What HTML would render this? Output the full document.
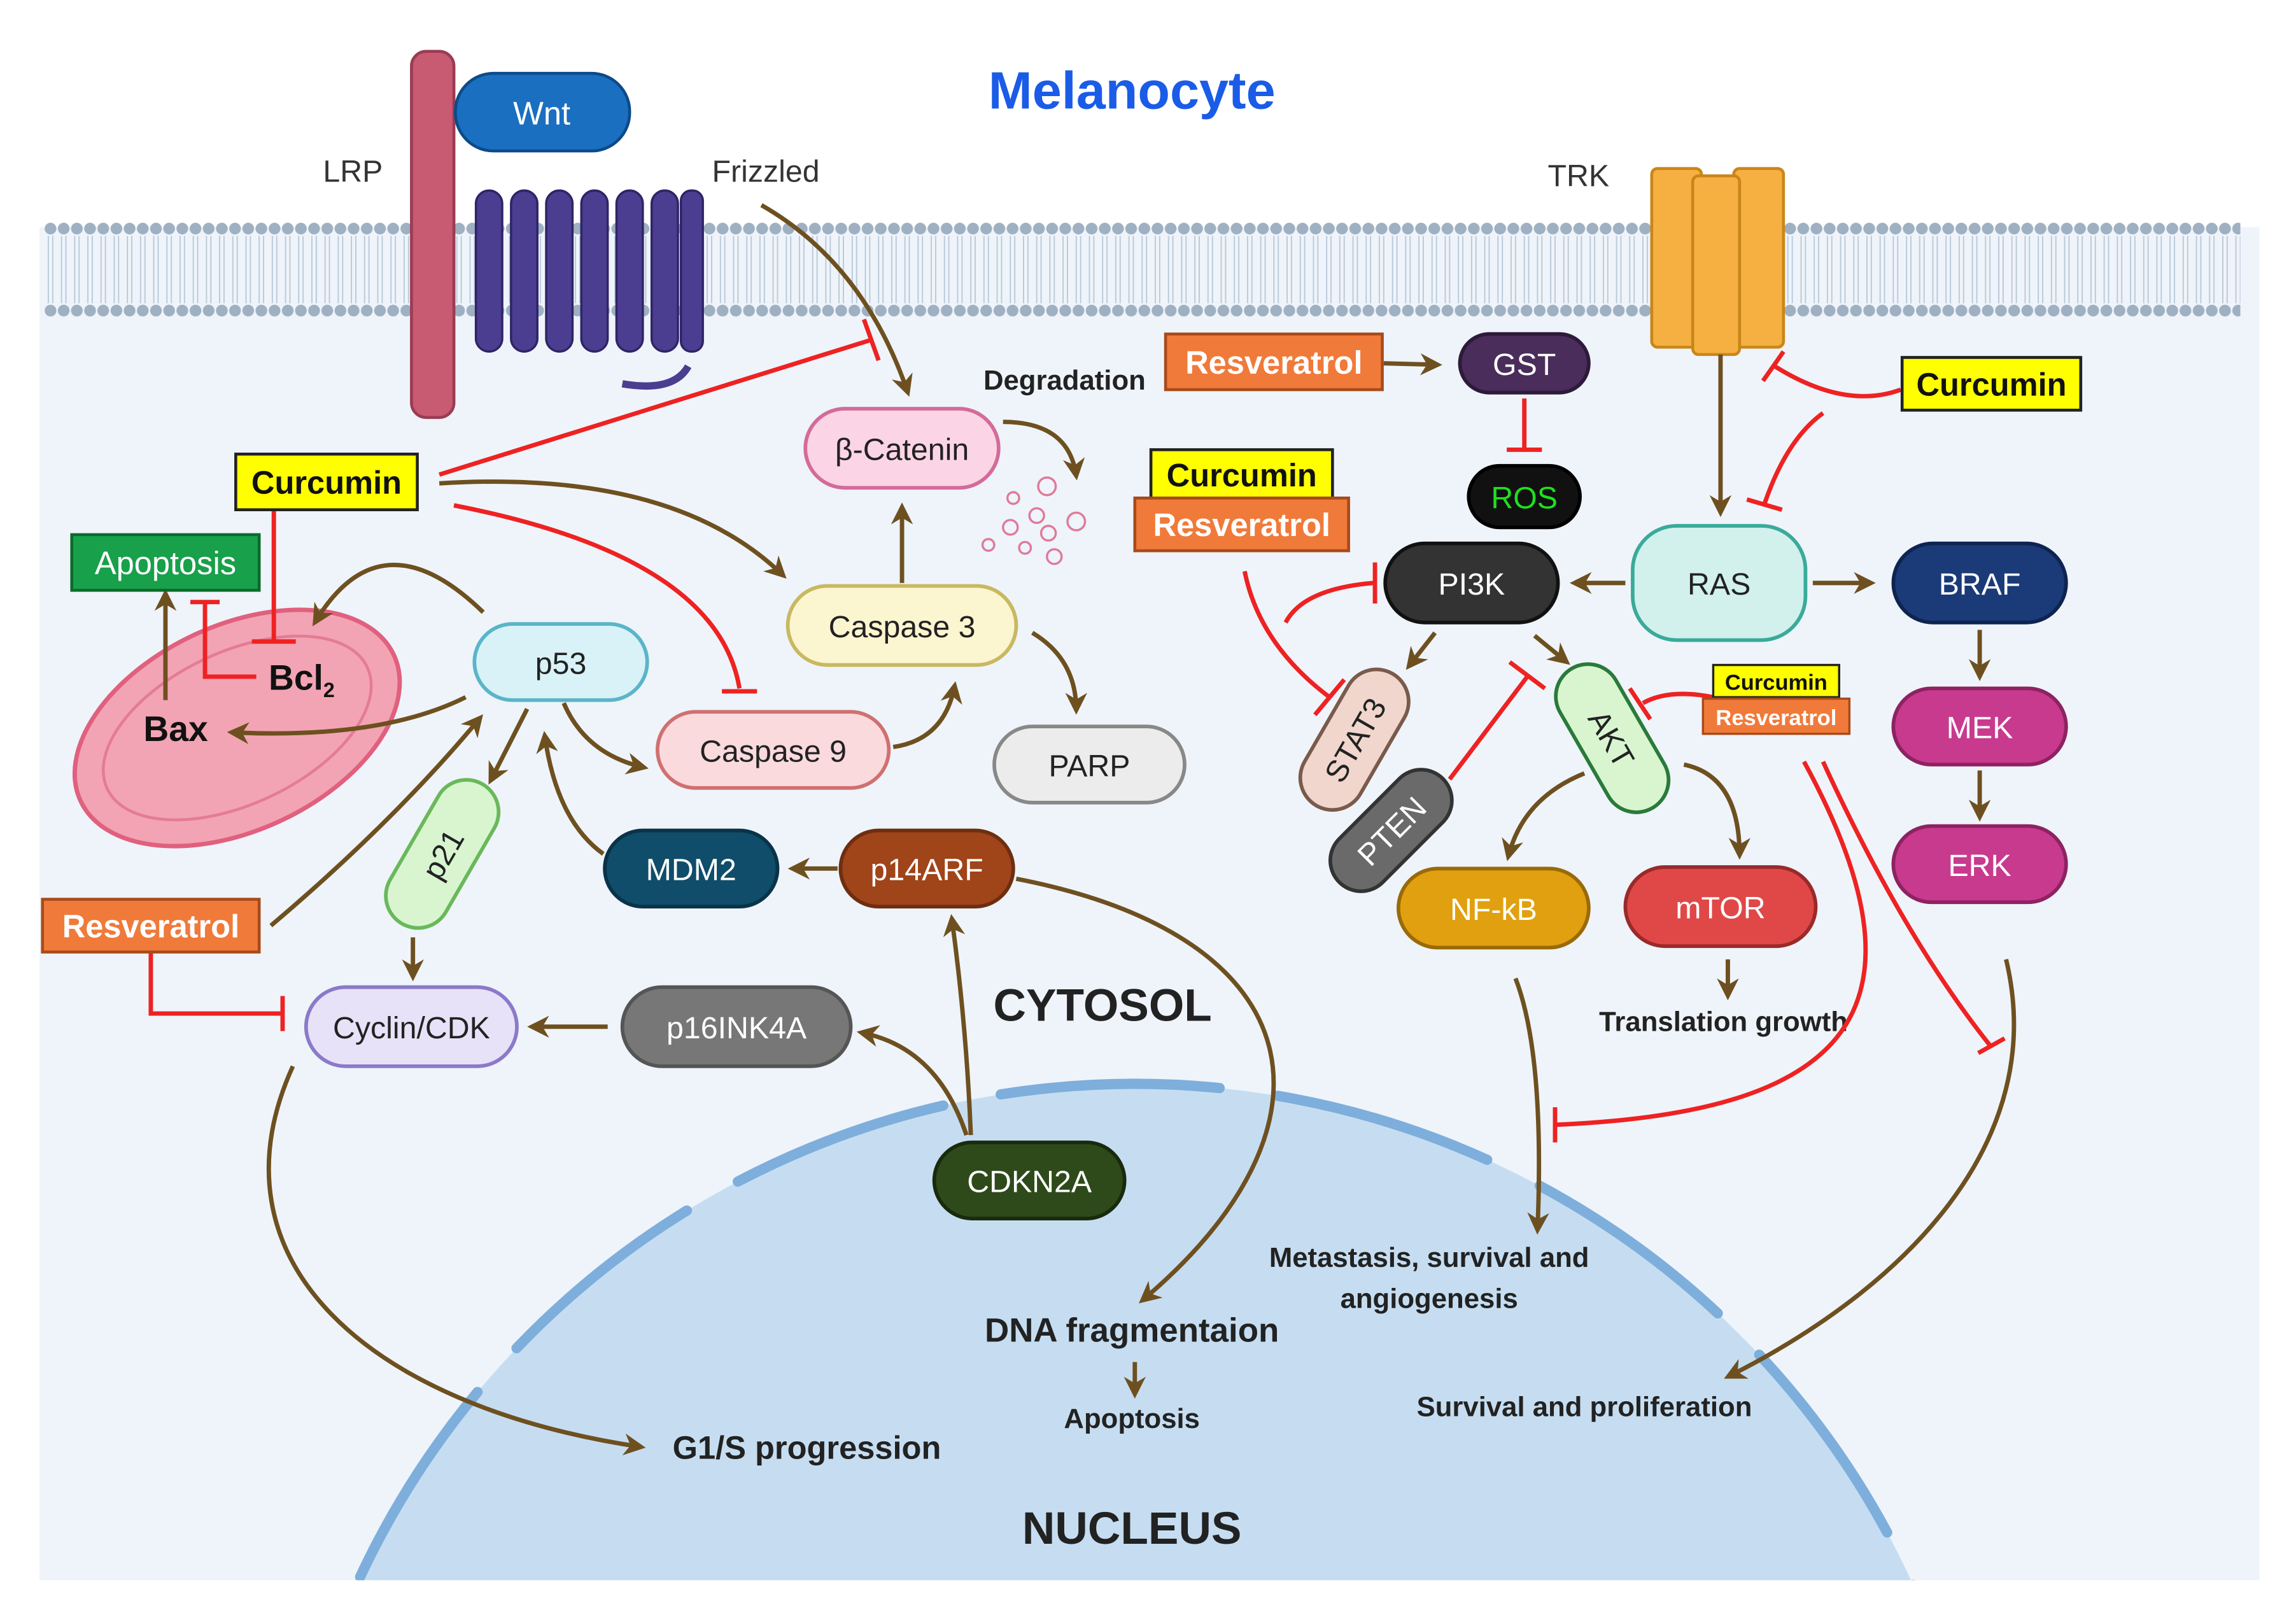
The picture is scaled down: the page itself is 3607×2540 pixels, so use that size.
<!DOCTYPE html>
<html><head><meta charset="utf-8"><style>
html,body{margin:0;padding:0;background:#fff;width:3607px;height:2540px;overflow:hidden}
svg{display:block}
text{font-family:"Liberation Sans",Arial,sans-serif}
</style></head><body>
<svg width="3607" height="2540" viewBox="0 0 1568 1104" xmlns="http://www.w3.org/2000/svg">
<defs>
<marker id="a" viewBox="0 0 10 10" refX="8" refY="5" markerWidth="5" markerHeight="5" orient="auto"><path d="M0,0L10,5L0,10L3,5z" fill="#6e5020"/></marker>
<pattern id="mem" x="30" y="150" width="9" height="70" patternUnits="userSpaceOnUse">
<circle cx="4.5" cy="6" r="4" fill="#9fb0c2"/><circle cx="4.5" cy="62" r="4" fill="#9fb0c2"/>
<line x1="3" y1="11" x2="3" y2="57" stroke="#b8c8d8" stroke-width="0.8"/><line x1="6" y1="11" x2="6" y2="57" stroke="#b8c8d8" stroke-width="0.8"/>
</pattern>
<clipPath id="cyt"><rect x="27" y="155" width="1516" height="924"/></clipPath>
</defs>
<rect width="1568" height="1104" fill="#fff"/>
<rect x="27" y="155" width="1516" height="924" fill="#eef4fa"/>
<g clip-path="url(#cyt)">
<circle cx="775" cy="1324" r="584" fill="#c6ddf1"/>
<circle cx="775" cy="1324" r="584" fill="none" stroke="#7eaedb" stroke-width="7" stroke-dasharray="150 40" stroke-linecap="round"/>
</g>
<rect x="30" y="150" width="1500" height="70" fill="url(#mem)"/>
<!-- LRP, Wnt, Frizzled -->
<rect x="281" y="35" width="29" height="250" rx="10" fill="#c85a72" stroke="#9a3c52" stroke-width="2"/>
<g fill="#4b3d8f" stroke="#2e2466" stroke-width="1.5">
<rect x="325" y="130" width="18" height="110" rx="9"/><rect x="349" y="130" width="18" height="110" rx="9"/>
<rect x="373" y="130" width="18" height="110" rx="9"/><rect x="397" y="130" width="18" height="110" rx="9"/>
<rect x="421" y="130" width="18" height="110" rx="9"/><rect x="445" y="130" width="18" height="110" rx="9"/>
<rect x="465" y="130" width="15" height="110" rx="7"/>
</g>
<path d="M425,262 Q460,268 470,250" stroke="#4b3d8f" stroke-width="5" fill="none"/>
<rect x="311" y="50" width="119" height="53" rx="26" fill="#1a6fc0" stroke="#0d4a8a" stroke-width="2"/>
<text x="370" y="85" font-size="22" fill="#fff" text-anchor="middle">Wnt</text>
<text x="241" y="124" font-size="21" fill="#333" text-anchor="middle">LRP</text>
<text x="523" y="124" font-size="21" fill="#333" text-anchor="middle">Frizzled</text>
<text x="1078" y="127" font-size="21" fill="#333" text-anchor="middle">TRK</text>
<text x="773" y="74" font-size="36" font-weight="bold" fill="#1a5ce8" text-anchor="middle">Melanocyte</text>
<!-- TRK -->
<g fill="#f5b041" stroke="#c98618" stroke-width="2">
<rect x="1128" y="115" width="34" height="122" rx="4"/><rect x="1184" y="115" width="34" height="122" rx="4"/><rect x="1156" y="120" width="32" height="122" rx="4"/>
</g>
<!-- mitochondrion -->
<ellipse cx="162" cy="497" rx="118" ry="70" transform="rotate(-25 162 497)" fill="#f2a4b4" stroke="#e0607e" stroke-width="3"/>
<ellipse cx="162" cy="497" rx="98" ry="52" transform="rotate(-25 162 497)" fill="none" stroke="#e47c94" stroke-width="2"/>
<text x="206" y="471" font-size="24" font-weight="bold" fill="#111" text-anchor="middle">Bcl<tspan font-size="14" dy="5">2</tspan></text>
<text x="120" y="506" font-size="24" font-weight="bold" fill="#111" text-anchor="middle">Bax</text>
<!-- texts -->
<g fill="#222" text-anchor="middle" font-weight="bold">
<text x="727" y="266" font-size="19">Degradation</text>
<text x="753" y="697" font-size="31">CYTOSOL</text>
<text x="1177" y="704" font-size="19">Translation growth</text>
<text x="976" y="865" font-size="19">Metastasis, survival and</text>
<text x="976" y="893" font-size="19">angiogenesis</text>
<text x="773" y="916" font-size="23">DNA fragmentaion</text>
<text x="773" y="975" font-size="19">Apoptosis</text>
<text x="551" y="996" font-size="22">G1/S progression</text>
<text x="1082" y="967" font-size="19">Survival and proliferation</text>
<text x="773" y="1054" font-size="31">NUCLEUS</text>
</g>
<!-- degradation fragments -->
<g fill="none" stroke="#e07a9a" stroke-width="1.5">
<circle cx="715" cy="332" r="6"/><circle cx="692" cy="340" r="4"/><circle cx="708" cy="352" r="5"/><circle cx="690" cy="360" r="5"/><circle cx="716" cy="364" r="5"/><circle cx="700" cy="374" r="4"/><circle cx="720" cy="380" r="5"/><circle cx="735" cy="356" r="6"/><circle cx="675" cy="372" r="4"/>
</g>
<!-- brown arrows -->
<g stroke="#6e5020" stroke-width="3" fill="none" marker-end="url(#a)">
<path d="M520,140 Q590,180 620,268"/>
<path d="M685,288 Q730,288 735,325"/>
<path d="M616,398 L616,346"/>
<path d="M705,432 Q735,450 735,485"/>
<path d="M610,510 Q645,505 652,468"/>
<path d="M300,330 Q460,320 535,393"/>
<path d="M330,418 Q260,350 215,425"/>
<path d="M318,476 Q260,505 158,500"/>
<path d="M385,480 Q400,515 440,524"/>
<path d="M360,484 L335,533"/>
<path d="M412,583 Q380,560 372,502"/>
<path d="M572,593 L541,593"/>
<path d="M282,640 L282,667"/>
<path d="M415,701 L363,701"/>
<path d="M660,775 Q640,715 588,705"/>
<path d="M663,775 Q660,700 650,627"/>
<path d="M694,600 C900,640 920,770 780,888"/>
<path d="M185,632 Q270,560 328,490"/>
<path d="M200,728 C140,860 250,960 438,988"/>
<path d="M113,478 L113,405"/>
<path d="M775,930 L775,952"/>
<path d="M945,248 L982,249"/>
<path d="M1175,242 L1175,350"/>
<path d="M1110,398 L1075,398"/>
<path d="M1238,398 L1278,398"/>
<path d="M1352,430 L1352,462"/>
<path d="M1352,526 L1352,558"/>
<path d="M980,432 L962,455"/>
<path d="M1048,434 L1070,452"/>
<path d="M1082,528 Q1040,545 1030,585"/>
<path d="M1150,522 Q1188,530 1188,584"/>
<path d="M1180,655 L1180,680"/>
<path d="M1035,668 Q1055,720 1050,840"/>
<path d="M1370,655 C1400,780 1300,880 1180,940"/>
</g>
<!-- red inhibitions -->
<g stroke="#ee2222" stroke-width="3" fill="none">
<path d="M300,324 L595,232"/><path d="M590,218 L600,246"/>
<path d="M310,345 Q490,380 505,470"/><path d="M493,472 L517,472"/>
<path d="M187,348 L187,437"/><path d="M172,438 L202,438"/>
<path d="M175,462 L140,462 L140,412"/><path d="M130,411 L150,411"/>
<path d="M1041,272 L1041,306"/><path d="M1029,307 L1053,307"/>
<path d="M850,390 Q860,440 908,476"/><path d="M898,488 L918,464"/>
<path d="M878,425 Q890,402 938,398"/><path d="M939,384 L939,412"/>
<path d="M990,532 L1043,462"/><path d="M1031,452 L1055,470"/>
<path d="M1170,476 Q1140,470 1122,480"/><path d="M1113,470 L1127,491"/>
<path d="M1298,266 Q1260,280 1212,250"/><path d="M1204,260 L1218,240"/>
<path d="M1245,282 Q1220,300 1205,344"/><path d="M1193,341 L1217,348"/>
<path d="M1232,520 C1330,700 1250,760 1062,768"/><path d="M1062,756 L1062,780"/>
<path d="M1245,520 Q1300,640 1360,715"/><path d="M1351,719 L1369,709"/>
<path d="M103,650 L103,692 L193,692"/><path d="M193,680 L193,704"/>
</g>
<!-- nodes -->
<g stroke-width="2.5" font-size="21" text-anchor="middle">
<rect x="550" y="279" width="132" height="54" rx="27" fill="#fbd5e5" stroke="#d46b9a"/><text x="616" y="314" fill="#222">β-Catenin</text>
<rect x="538" y="400" width="156" height="54" rx="27" fill="#fbf5d0" stroke="#c9b860"/><text x="616" y="435" fill="#222">Caspase 3</text>
<rect x="449" y="486" width="158" height="52" rx="26" fill="#fadadd" stroke="#d07070"/><text x="528" y="520" fill="#222">Caspase 9</text>
<rect x="679" y="496" width="130" height="52" rx="26" fill="#ececec" stroke="#888"/><text x="744" y="530" fill="#222">PARP</text>
<rect x="324" y="426" width="118" height="52" rx="26" fill="#d8f2f8" stroke="#5ab5c8"/><text x="383" y="460" fill="#222">p53</text>
<rect x="413" y="567" width="118" height="52" rx="26" fill="#0f4d6a" stroke="#0a3348"/><text x="472" y="601" fill="#fff">MDM2</text>
<rect x="574" y="567" width="118" height="52" rx="26" fill="#a0441a" stroke="#6e2e10"/><text x="633" y="601" fill="#fff">p14ARF</text>
<g transform="translate(302,583) rotate(-60)"><rect x="-55" y="-22" width="110" height="44" rx="22" fill="#d8f5d0" stroke="#6ab85a"/><text x="0" y="8" fill="#222">p21</text></g>
<rect x="209" y="674" width="144" height="54" rx="27" fill="#e8e2f8" stroke="#8a7ac8"/><text x="281" y="709" fill="#222">Cyclin/CDK</text>
<rect x="425" y="674" width="156" height="54" rx="27" fill="#777" stroke="#555"/><text x="503" y="709" fill="#fff">p16INK4A</text>
<rect x="638" y="780" width="130" height="52" rx="26" fill="#2f4a1a" stroke="#1a2a0d"/><text x="703" y="814" fill="#fff">CDKN2A</text>
<rect x="997" y="228" width="88" height="40" rx="20" fill="#4a2d5a" stroke="#2e1a3a"/><text x="1041" y="256" fill="#fff">GST</text>
<rect x="1003" y="318" width="76" height="42" rx="21" fill="#111" stroke="#000"/><text x="1041" y="347" fill="#1ee01e">ROS</text>
<rect x="946" y="371" width="118" height="54" rx="27" fill="#333" stroke="#111"/><text x="1005" y="406" fill="#fff">PI3K</text>
<rect x="1115" y="359" width="118" height="78" rx="30" fill="#d2f0ec" stroke="#3aaa9a"/><text x="1174" y="406" fill="#222">RAS</text>
<rect x="1293" y="371" width="118" height="54" rx="27" fill="#1a3a78" stroke="#0e2450"/><text x="1352" y="406" fill="#fff">BRAF</text>
<rect x="1293" y="470" width="118" height="52" rx="26" fill="#c83a8e" stroke="#8e2262"/><text x="1352" y="504" fill="#fff">MEK</text>
<rect x="1293" y="564" width="118" height="52" rx="26" fill="#c83a8e" stroke="#8e2262"/><text x="1352" y="598" fill="#fff">ERK</text>
<g transform="translate(925,505) rotate(-60)"><rect x="-52" y="-22" width="104" height="44" rx="22" fill="#f0d6cc" stroke="#7a5a4a"/><text x="0" y="8" fill="#222">STAT3</text></g>
<g transform="translate(950,567) rotate(-45)"><rect x="-50" y="-21" width="100" height="42" rx="21" fill="#6a6a6a" stroke="#333"/><text x="0" y="8" fill="#fff">PTEN</text></g>
<g transform="translate(1101,504) rotate(60)"><rect x="-55" y="-22" width="110" height="44" rx="22" fill="#d8f5d0" stroke="#2a7a3a"/><text x="0" y="8" fill="#222">AKT</text></g>
<rect x="955" y="593" width="130" height="54" rx="27" fill="#e0a010" stroke="#9a6a08"/><text x="1020" y="628" fill="#fff">NF-kB</text>
<rect x="1110" y="592" width="130" height="54" rx="27" fill="#e04848" stroke="#9a2a2a"/><text x="1175" y="627" fill="#fff">mTOR</text>
</g>
<!-- drug labels -->
<g font-weight="bold" text-anchor="middle">
<rect x="161" y="310" width="124" height="38" fill="#ffff00" stroke="#222" stroke-width="2"/><text x="223" y="337" font-size="22" fill="#111">Curcumin</text>
<rect x="49" y="365" width="128" height="38" fill="#18a04a" stroke="#0c6a2a" stroke-width="2"/><text x="113" y="392" font-size="22" fill="#fff" font-weight="normal">Apoptosis</text>
<rect x="29" y="614" width="148" height="36" fill="#f07a3a" stroke="#a84a1a" stroke-width="2"/><text x="103" y="640" font-size="22" fill="#fff">Resveratrol</text>
<rect x="796" y="228" width="148" height="38" fill="#f07a3a" stroke="#a84a1a" stroke-width="2"/><text x="870" y="255" font-size="22" fill="#fff">Resveratrol</text>
<rect x="786" y="307" width="124" height="34" fill="#ffff00" stroke="#222" stroke-width="2"/><text x="848" y="332" font-size="22" fill="#111">Curcumin</text>
<rect x="775" y="340" width="146" height="36" fill="#f07a3a" stroke="#a84a1a" stroke-width="2"/><text x="848" y="366" font-size="22" fill="#fff">Resveratrol</text>
<rect x="1299" y="244" width="122" height="36" fill="#ffff00" stroke="#222" stroke-width="2"/><text x="1360" y="270" font-size="22" fill="#111">Curcumin</text>
<rect x="1170" y="454" width="86" height="22" fill="#ffff00" stroke="#222" stroke-width="1.5"/><text x="1213" y="471" font-size="15" fill="#111">Curcumin</text>
<rect x="1163" y="477" width="100" height="24" fill="#f07a3a" stroke="#a84a1a" stroke-width="1.5"/><text x="1213" y="495" font-size="15" fill="#fff">Resveratrol</text>
</g>
</svg>
</body></html>
